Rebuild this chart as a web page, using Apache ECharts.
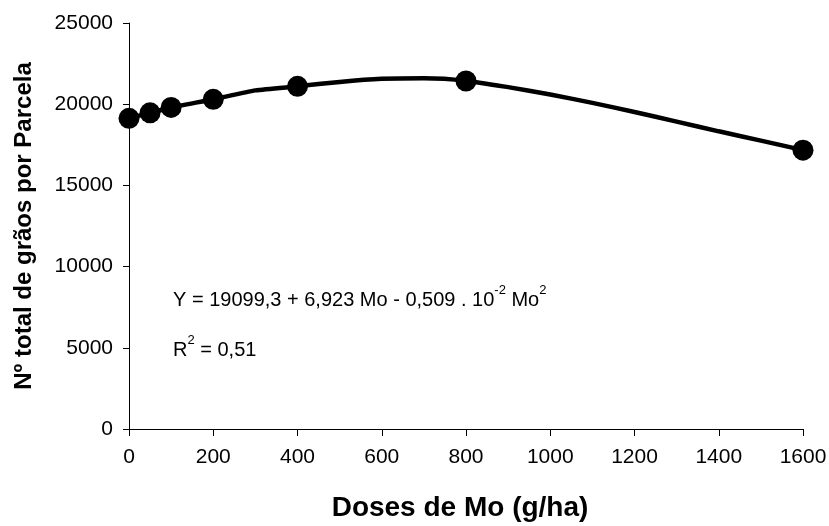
<!DOCTYPE html>
<html>
<head>
<meta charset="utf-8">
<script src="https://cdn.jsdelivr.net/npm/echarts@6/dist/echarts.min.js"></script>
<style>
  html, body { margin: 0; padding: 0; background: #fff; }
  #chart { width: 829px; height: 526px; }
</style>
</head>
<body>
<div id="chart"></div>
<script>
// Observed means: doses of Mo (g/ha) and total grains per plot
const doses = [0, 50, 100, 200, 400, 800, 1600];
const grains = [19130, 19470, 19800, 20300, 21100, 21430, 17170];

// Fitted regression curve, read at regular dose steps
const fitDoses = [0, 50, 100, 200, 300, 400, 500, 600, 700, 800, 900, 1000, 1100, 1200, 1300, 1400, 1500, 1600];
const fitGrains = [19130, 19470, 19800, 20300, 20850, 21100, 21370, 21560, 21600, 21450, 21050, 20600, 20080, 19520, 18930, 18330, 17760, 17170];

// Axis ranges
const xMin = 0, xMax = 1600, xStep = 200;
const yMin = 0, yMax = 25000, yStep = 5000;

const FONT = 'Liberation Sans, Arial, sans-serif';

const chart = echarts.init(document.getElementById('chart'), null, { renderer: 'canvas' });

const plain = v => String(v);

chart.setOption({
  animation: false,
  backgroundColor: '#ffffff',
  grid: { left: 129, right: 26, top: 23, bottom: 97, containLabel: false, outerBoundsMode: 'none' },
  xAxis: {
    type: 'value',
    min: xMin, max: xMax, interval: xStep,
    name: 'Doses de Mo (g/ha)',
    nameLocation: 'middle',
    nameGap: 65,
    nameTextStyle: { fontFamily: FONT, fontWeight: 'bold', fontSize: 28, color: '#000', padding: [0, 12, 0, 0] },
    axisLine: { lineStyle: { color: '#000', width: 1 } },
    axisTick: { show: true, inside: false, length: 7, lineStyle: { color: '#000' } },
    axisLabel: { color: '#000', fontFamily: FONT, fontSize: 21, margin: 18, formatter: plain },
    splitLine: { show: false }
  },
  yAxis: {
    type: 'value',
    min: yMin, max: yMax, interval: yStep,
    name: 'Nº total de grãos por Parcela',
    nameLocation: 'middle',
    nameGap: 93,
    nameTextStyle: { fontFamily: FONT, fontWeight: 'bold', fontSize: 24, color: '#000' },
    axisLine: { show: true, lineStyle: { color: '#000', width: 1 } },
    axisTick: { show: true, inside: false, length: 6, lineStyle: { color: '#000' } },
    axisLabel: { color: '#000', fontFamily: FONT, fontSize: 21, margin: 16, formatter: plain },
    splitLine: { show: false }
  },
  series: [
    {
      name: 'Ajuste',
      type: 'line',
      data: fitDoses.map((d, i) => [d, fitGrains[i]]),
      showSymbol: false,
      symbol: 'none',
      smooth: 0.2,
      lineStyle: { color: '#000', width: 4.5 },
      z: 2
    },
    {
      name: 'Observado',
      type: 'scatter',
      data: doses.map((d, i) => [d, grains[i]]),
      symbol: 'circle',
      symbolSize: 21,
      itemStyle: { color: '#000', opacity: 1 },
      emphasis: { disabled: true },
      z: 3
    }
  ],
  graphic: [
    {
      type: 'text',
      left: 173, top: 284,
      style: {
        text: '{n|Y = 19099,3 + 6,923 Mo - 0,509 . 10}{s|-2}{n| Mo}{s|2}',
        rich: {
          n: { fontFamily: FONT, fontSize: 20, fill: '#000', verticalAlign: 'bottom', lineHeight: 26 },
          s: { fontFamily: FONT, fontSize: 13, fill: '#000', verticalAlign: 'top', lineHeight: 26, padding: [0, 0, 11, 0] }
        }
      }
    },
    {
      type: 'text',
      left: 173, top: 334,
      style: {
        text: '{n|R}{s|2}{n| = 0,51}',
        rich: {
          n: { fontFamily: FONT, fontSize: 20, fill: '#000', verticalAlign: 'bottom', lineHeight: 26 },
          s: { fontFamily: FONT, fontSize: 13, fill: '#000', verticalAlign: 'top', lineHeight: 26, padding: [0, 0, 11, 0] }
        }
      }
    }
  ]
});
</script>
</body>
</html>
